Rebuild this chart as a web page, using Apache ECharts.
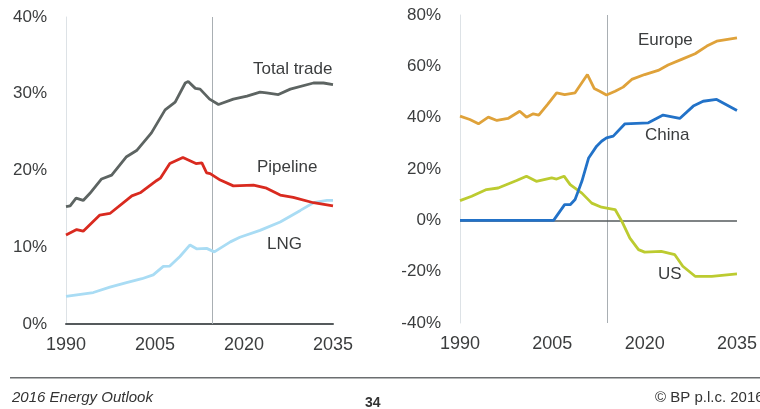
<!DOCTYPE html>
<html>
<head>
<meta charset="utf-8">
<script src="https://cdn.jsdelivr.net/npm/echarts@6/dist/echarts.min.js"></script>
<style>
  html, body { margin: 0; padding: 0; background: #fff; }
  #chart { width: 760px; height: 409px; }
</style>
</head>
<body>
<div id="chart"></div>
<script>
// [year, share %]
var total_trade = [[1990,15.3],[1990.7,15.4],[1991.7,16.4],[1992.9,16.1],[1994,17.0],[1996,18.9],[1997.7,19.4],[2000.2,21.8],[2001.9,22.6],[2004.4,24.9],[2006.7,27.9],[2008.4,28.9],[2010.1,31.4],[2010.6,31.6],[2011.8,30.7],[2012.6,30.6],[2014.2,29.3],[2015.7,28.6],[2018.2,29.3],[2020.5,29.7],[2022.7,30.2],[2023.8,30.1],[2025.8,29.9],[2027.8,30.6],[2031.7,31.4],[2033.4,31.4],[2035,31.2]];
var pipeline = [[1990,11.6],[1991.8,12.3],[1992.9,12.1],[1995.7,14.2],[1997.4,14.4],[2001.1,16.7],[2002.5,17.1],[2005.3,18.7],[2005.9,19.0],[2007.5,20.9],[2009.7,21.7],[2011.9,20.9],[2012.9,21.0],[2013.7,19.7],[2014.3,19.6],[2016,18.75],[2018.2,18.0],[2021.6,18.1],[2023.8,17.7],[2026.1,16.8],[2028.3,16.5],[2031.7,15.8],[2035,15.4]];
var lng = [[1990,3.6],[1994.6,4.1],[1997.4,4.8],[2000.2,5.4],[2002.8,5.9],[2004.7,6.4],[2006.4,7.5],[2007.5,7.55],[2009.2,8.8],[2010.9,10.3],[2012,9.8],[2013.7,9.85],[2015,9.4],[2017.7,10.7],[2019.3,11.3],[2022.7,12.2],[2026.1,13.3],[2029.5,14.8],[2031.7,15.8],[2034,16.1],[2035,16.1]];

var europe = [[1990,40.6],[1991.6,39.3],[1993,37.6],[1994.6,40.2],[1996,38.9],[1997.8,39.7],[1999.7,42.5],[2000.8,40.2],[2001.9,41.5],[2002.8,41.0],[2004.3,45.4],[2005.7,49.7],[2007,49.0],[2008.7,49.7],[2010.7,56.8],[2011.8,51.4],[2012.7,50.3],[2013.8,48.8],[2015.2,50.3],[2016.5,51.9],[2017.9,54.9],[2020,56.8],[2022.2,58.4],[2023.8,60.5],[2026,62.7],[2028.2,64.9],[2030.1,67.9],[2031.7,69.8],[2035,71.1]];
var china = [[1990,0],[2005.2,0],[2007,6.1],[2007.9,6.1],[2008.7,8.1],[2009.8,15.2],[2010.9,24.3],[2012.2,28.9],[2013,30.8],[2013.8,32.1],[2014.9,32.8],[2016.8,37.6],[2020.6,38.0],[2023,41.0],[2025.7,39.7],[2027.9,44.5],[2029.5,46.4],[2031.7,47.1],[2035,42.8]];
var us = [[1990,7.7],[1991.9,9.4],[1994.3,12.0],[1996.2,12.6],[1999.2,15.5],[2000.8,17.2],[2002.4,15.2],[2004.9,16.5],[2005.7,16.1],[2006.9,17.2],[2007.9,13.9],[2009.8,10.6],[2011.4,6.7],[2013,5.1],[2014.5,4.5],[2015.2,4.2],[2016.3,-0.4],[2017.6,-6.9],[2019,-11.4],[2020,-12.4],[2022.7,-12.1],[2024.9,-13.4],[2026.2,-17.9],[2028.2,-21.8],[2030.9,-21.8],[2035,-20.9]];

var year_ticks = [1990, 2005, 2020, 2035];
var left_ticks = [0, 10, 20, 30, 40];
var right_ticks = [-40, -20, 0, 20, 40, 60, 80];
var outlook_left = 2014.6;
var outlook_right = 2014;

var text_col = '#3b3d3e';
var font = 'Liberation Sans';

function x_axis(idx) {
    return {
        type: 'value', gridIndex: idx,
        min: year_ticks[0], max: year_ticks[year_ticks.length - 1], interval: 15,
        axisLine: {show: idx === 0, onZero: false, lineStyle: {color: '#555a5c', width: 2}},
        axisTick: {show: false},
        splitLine: {show: false},
        axisLabel: {color: text_col, fontSize: 18, fontFamily: font, margin: 12,
                    formatter: function (v) { return String(v); }},
    };
}
function y_axis(idx, ticks) {
    return {
        type: 'value', gridIndex: idx,
        min: ticks[0], max: ticks[ticks.length - 1], interval: ticks[1] - ticks[0],
        axisLine: {show: true, lineStyle: {color: '#dde2e6', width: 1}},
        axisTick: {show: false},
        splitLine: {show: false},
        axisLabel: {color: text_col, fontSize: 17, fontFamily: font, margin: 19,
                    formatter: '{value}%'},
    };
}
function line(name, data, color, idx) {
    return {
        name: name, type: 'line', data: data, xAxisIndex: idx, yAxisIndex: idx,
        symbol: 'none', smooth: false, animation: false, z: 3,
        lineStyle: {color: color, width: 2.8},
    };
}
// empty series only holding reference lines, kept under the data lines
function guides(idx, lines) {
    return {
        type: 'line', data: [], xAxisIndex: idx, yAxisIndex: idx, z: 1,
        markLine: {silent: true, z: 1, symbol: 'none', label: {show: false}, animation: false,
                   data: lines},
    };
}
function label(text, x, y) {
    return {type: 'text', left: x, top: y,
            style: {text: text, fill: text_col, fontSize: 17, fontFamily: font}};
}
var thin = {color: '#a9afb3', width: 1, type: 'solid'};
var zero = {color: '#555a5c', width: 1.5, type: 'solid'};

var chart = echarts.init(document.getElementById('chart'));
chart.setOption({
    animation: false,
    grid: [
        {left: 66, right: 427, top: 17, bottom: 85},
        {left: 460, right: 23, top: 15, bottom: 86},
    ],
    xAxis: [x_axis(0), x_axis(1)],
    yAxis: [y_axis(0, left_ticks), y_axis(1, right_ticks)],
    series: [
        guides(0, [{xAxis: outlook_left, lineStyle: thin}]),
        guides(1, [{xAxis: outlook_right, lineStyle: thin}, {yAxis: 0, lineStyle: zero}]),
        line('LNG', lng, '#a9dcf4', 0),
        line('Total trade', total_trade, '#5d6462', 0),
        line('Pipeline', pipeline, '#d92a1f', 0),
        line('Europe', europe, '#dfa23a', 1),
        line('US', us, '#bccb30', 1),
        line('China', china, '#2272c8', 1),
    ],
    graphic: [
        label('Total trade', 253, 61),
        label('Pipeline', 257, 159),
        label('LNG', 267, 236),
        label('Europe', 638, 32),
        label('China', 645, 127),
        label('US', 658, 266),
        {type: 'rect', shape: {x: 10, y: 377, width: 750, height: 1.5}, style: {fill: '#6b6e70'}},
        {type: 'text', left: 12, top: 390, style: {text: '2016 Energy Outlook', fill: '#333',
            fontSize: 15, fontStyle: 'italic', fontFamily: font}},
        {type: 'text', left: 365, top: 396, style: {text: '34', fill: '#333',
            fontSize: 14, fontWeight: 'bold', fontFamily: font}},
        {type: 'text', left: 655, top: 390, style: {text: '\u00a9 BP p.l.c. 2016', fill: '#333',
            fontSize: 15, fontFamily: font}},
    ],
});
</script>
</body>
</html>
